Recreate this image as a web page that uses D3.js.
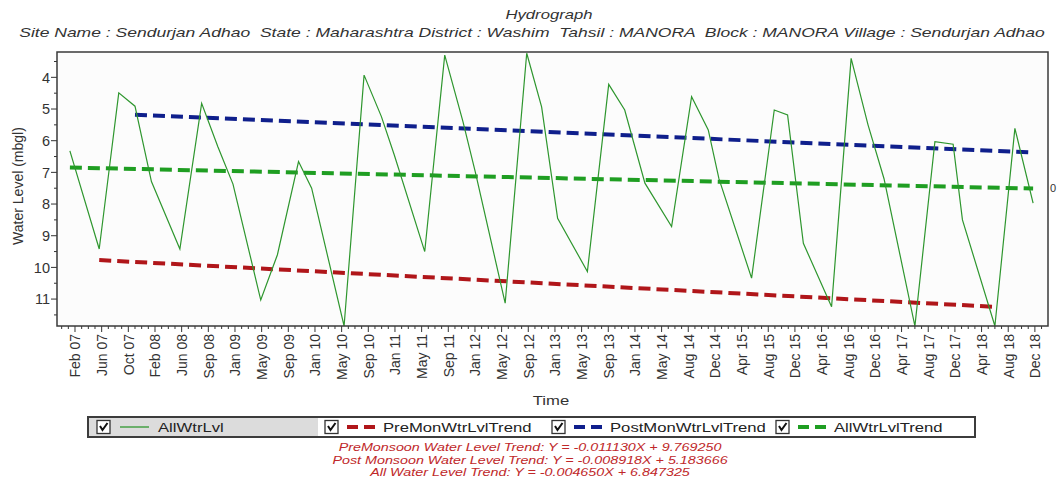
<!DOCTYPE html>
<html>
<head>
<meta charset="utf-8">
<script src="https://cdn.jsdelivr.net/npm/d3@7"></script>
<style>
  body { margin: 0; background: #fff; }
  svg { display: block; }
  text { white-space: pre; }
</style>
</head>
<body>
<svg id="chart" width="1057" height="495"></svg>
<script>
// ---- Observations (water level below ground, metres) ----
const obsDates = [
  "2007-01-16","2007-05-28","2007-08-24","2007-11-05",
  "2008-01-18","2008-05-25","2008-08-31","2008-11-12",
  "2009-01-19","2009-05-24","2009-08-07","2009-11-10",
  "2010-01-08","2010-06-03","2010-09-01","2010-11-18",
  "2011-01-15","2011-06-01","2011-08-30","2011-11-20",
  "2012-01-15","2012-05-28","2012-09-02","2012-11-08",
  "2013-01-19","2013-06-02","2013-09-06","2013-11-17",
  "2014-02-16","2014-06-16","2014-09-14","2014-11-28",
  "2015-01-15","2015-06-11","2015-09-21","2015-11-20",
  "2016-01-30","2016-06-05","2016-09-01","2016-11-16",
  "2017-01-27","2017-06-15","2017-09-13","2017-12-04",
  "2018-01-15","2018-06-10","2018-09-08","2018-11-29"
];
const waterLevel = [
  6.32, 9.42, 4.49, 4.91,
  7.29, 9.42, 4.82, 6.19,
  7.37, 11.03, 9.60, 6.66,
  7.50, 11.85, 3.93, 5.24,
  6.45, 9.50, 3.30, 5.40,
  7.00, 11.13, 3.24, 4.93,
  8.45, 10.13, 4.22, 5.03,
  7.34, 8.71, 4.61, 5.66,
  7.20, 10.34, 5.03, 5.19,
  9.24, 11.24, 3.40, 5.50,
  7.20, 11.85, 6.03, 6.11,
  8.50, 11.85, 5.61, 7.97
];

// ---- Axes ----
const xDomain = ["2006-11-19", "2019-02-04"];
const yDomain = [3.2, 11.85];
const tickStart = "2007-02-08";
const tickStepDays = 120;
const tickLabels = [
  "Feb 07","Jun 07","Oct 07","Feb 08","Jun 08","Sep 08","Jan 09","May 09","Sep 09",
  "Jan 10","May 10","Sep 10","Jan 11","May 11","Sep 11","Jan 12","May 12","Sep 12",
  "Jan 13","May 13","Sep 13","Jan 14","May 14","Aug 14","Dec 14","Apr 15","Aug 15",
  "Dec 15","Apr 16","Aug 16","Dec 16","Apr 17","Aug 17","Dec 17","Apr 18","Aug 18","Dec 18"
];
const yTicks = [4, 5, 6, 7, 8, 9, 10, 11];

// ---- Linear trends (slope per month, in the rising-level sign convention) ----
const trendNames = ["PreMonWtrLvlTrend", "PostMonWtrLvlTrend", "AllWtrLvlTrend"];
const trendTitles = ["PreMonsoon Water Level Trend", "Post Monsoon Water Level Trend", "All Water Level Trend"];
const trendSlopes = [-0.011130, -0.008918, -0.004650];
const trendIntercepts = [9.769250, 5.183666, 6.847325];
const trendStart = ["2007-05-28", "2007-11-05", "2007-01-16"];
const trendEnd = ["2018-06-10", "2018-11-29", "2018-11-29"];
const trendColors = ["#b0161a", "#0f1f8c", "#1f9e22"];
const lineColor = "#2e962e";

const titleText = "Hydrograph";
const subtitleText = "Site Name : Sendurjan Adhao  State : Maharashtra District : Washim  Tahsil : MANORA  Block : MANORA Village : Sendurjan Adhao";

// ---- Layout ----
const W = 1057, H = 495;
const plot = { left: 57, right: 1048, top: 52, bottom: 326 };
const FONT = "'Liberation Sans', Arial, sans-serif";
const STRETCH = 1.39;   // horizontal text in this chart is drawn wide

const parse = d3.utcParse("%Y-%m-%d");
const DAY = 86400000;
const MONTH_DAYS = 30.4375;

const svg = d3.select("#chart");
svg.append("rect").attr("width", W).attr("height", H).attr("fill", "#fff");

const x = d3.scaleUtc().domain(xDomain.map(parse)).range([plot.left, plot.right]);
const y = d3.scaleLinear().domain(yDomain).range([plot.top, plot.bottom]);

function wideText(parent, px, py, str, size, anchor, opts = {}) {
  const g = parent.append("g").attr("transform", `translate(${px},${py}) scale(${STRETCH},1)`);
  const t = g.append("text")
    .attr("text-anchor", anchor)
    .attr("font-family", FONT)
    .attr("font-size", size)
    .attr("fill", opts.fill || "#222")
    .text(str);
  if (opts.italic) t.attr("font-style", "italic");
  return t;
}

// Titles
wideText(svg, 549, 19, titleText, 12, "middle", { italic: true, fill: "#333" });
wideText(svg, 532, 37, subtitleText, 12.6, "middle", { italic: true, fill: "#333" });

// Plot background + clip
svg.append("rect")
  .attr("x", plot.left).attr("y", plot.top)
  .attr("width", plot.right - plot.left).attr("height", plot.bottom - plot.top)
  .attr("fill", "#fcfcfc");
svg.append("clipPath").attr("id", "plotClip").append("rect")
  .attr("x", plot.left).attr("y", plot.top)
  .attr("width", plot.right - plot.left).attr("height", plot.bottom - plot.top);

// Y axis ticks (major at integers, minor at halves)
const yAxisG = svg.append("g");
const yMinor = d3.range(3.5, 11.85, 0.5);
yAxisG.selectAll("line").data(yMinor).join("line")
  .attr("x1", d => Number.isInteger(d) ? plot.left - 6 : plot.left - 3)
  .attr("x2", plot.left)
  .attr("y1", d => y(d)).attr("y2", d => y(d))
  .attr("stroke", "#333").attr("stroke-width", 1);
yAxisG.selectAll("text").data(yTicks).join("text")
  .attr("x", 50).attr("y", d => y(d)).attr("dy", "0.36em")
  .attr("text-anchor", "end")
  .attr("font-family", FONT).attr("font-size", 14.5).attr("fill", "#333")
  .text(d => d);

// X axis ticks: major every 120 days, minor every 30 days
const t0 = parse(tickStart);
const majorDates = tickLabels.map((_, i) => new Date(t0.getTime() + i * tickStepDays * DAY));
const xDom = x.domain();
const minorDates = [];
for (let k = -3; k <= tickLabels.length * 4 + 2; k++) {
  const d = new Date(t0.getTime() + k * (tickStepDays / 4) * DAY);
  if (d >= xDom[0] && d <= xDom[1] && k % 4 !== 0) minorDates.push(d);
}
const xAxisG = svg.append("g");
xAxisG.selectAll("line.minor").data(minorDates).join("line")
  .attr("class", "minor")
  .attr("x1", d => x(d)).attr("x2", d => x(d))
  .attr("y1", plot.bottom).attr("y2", plot.bottom + 3)
  .attr("stroke", "#333").attr("stroke-width", 1);
xAxisG.selectAll("line.major").data(majorDates).join("line")
  .attr("class", "major")
  .attr("x1", d => x(d)).attr("x2", d => x(d))
  .attr("y1", plot.bottom).attr("y2", plot.bottom + 6)
  .attr("stroke", "#333").attr("stroke-width", 1);
xAxisG.selectAll("text").data(majorDates).join("text")
  .attr("transform", d => `translate(${x(d) + 5.5},${plot.bottom + 8}) rotate(-90)`)
  .attr("text-anchor", "end")
  .attr("font-family", FONT).attr("font-size", 14).attr("fill", "#333")
  .text((d, i) => tickLabels[i]);

// Axis titles
svg.append("text")
  .attr("transform", `translate(23,186) rotate(-90)`)
  .attr("text-anchor", "middle")
  .attr("font-family", FONT).attr("font-size", 14).attr("fill", "#333")
  .text("Water Level (mbgl)");
wideText(svg, 551, 405, "Time", 12, "middle", { fill: "#333" });

// Trend lines, evaluated from their equations (X = months since first reading of the season)
const series = obsDates.map((d, i) => ({ date: parse(d), value: waterLevel[i] }));
const plotG = svg.append("g").attr("clip-path", "url(#plotClip)");

trendNames.forEach((name, i) => {
  const s = parse(trendStart[i]), e = parse(trendEnd[i]);
  const pts = [s, e].map(d => {
    const months = (d - s) / DAY / MONTH_DAYS;
    return { date: d, value: trendIntercepts[i] - trendSlopes[i] * months };
  });
  plotG.append("path")
    .datum(pts)
    .attr("fill", "none")
    .attr("stroke", trendColors[i])
    .attr("stroke-width", 4)
    .attr("stroke-dasharray", "12,6")
    .attr("d", d3.line().x(p => x(p.date)).y(p => y(p.value)));
});

// Observed water level
plotG.append("path")
  .datum(series)
  .attr("fill", "none")
  .attr("stroke", lineColor)
  .attr("stroke-width", 1.2)
  .attr("stroke-linejoin", "miter")
  .attr("d", d3.line().x(p => x(p.date)).y(p => y(p.value)));

// Frame
svg.append("rect")
  .attr("x", plot.left).attr("y", plot.top)
  .attr("width", plot.right - plot.left).attr("height", plot.bottom - plot.top)
  .attr("fill", "none").attr("stroke", "#3a3a3a").attr("stroke-width", 1.5);

// Right-axis label
svg.append("text")
  .attr("x", 1050).attr("y", y(7.5)).attr("dy", "0.36em")
  .attr("font-family", FONT).attr("font-size", 11).attr("fill", "#333")
  .text("0");

// ---- Legend ----
const legend = { x: 88, y: 417, w: 887, h: 20 };
const legendG = svg.append("g");
legendG.append("rect")
  .attr("x", legend.x).attr("y", legend.y).attr("width", 230).attr("height", legend.h)
  .attr("fill", "#dcdcdc");
legendG.append("rect")
  .attr("x", legend.x).attr("y", legend.y).attr("width", legend.w).attr("height", legend.h)
  .attr("fill", "none").attr("stroke", "#3c3c3c").attr("stroke-width", 2);

const legendItems = [
  { name: "AllWtrLvl", color: lineColor, dashed: false, box: 97 },
  { name: trendNames[0], color: trendColors[0], dashed: true, box: 325 },
  { name: trendNames[1], color: trendColors[1], dashed: true, box: 552 },
  { name: trendNames[2], color: trendColors[2], dashed: true, box: 776 }
];
const cy = legend.y + legend.h / 2;
legendItems.forEach(it => {
  legendG.append("rect")
    .attr("x", it.box).attr("y", cy - 6.5).attr("width", 13).attr("height", 13)
    .attr("fill", "#fff").attr("stroke", "#333").attr("stroke-width", 1.3);
  legendG.append("path")
    .attr("d", `M${it.box + 3},${cy - 1} L${it.box + 5.5},${cy + 3} L${it.box + 10.5},${cy - 4}`)
    .attr("fill", "none").attr("stroke", "#111").attr("stroke-width", 2);
  if (it.dashed) {
    legendG.append("line")
      .attr("x1", it.box + 22).attr("x2", it.box + 51)
      .attr("y1", cy).attr("y2", cy)
      .attr("stroke", it.color).attr("stroke-width", 4).attr("stroke-dasharray", "11,6");
  } else {
    legendG.append("line")
      .attr("x1", it.box + 23).attr("x2", it.box + 52)
      .attr("y1", cy).attr("y2", cy)
      .attr("stroke", it.color).attr("stroke-width", 1.3);
  }
  wideText(legendG, it.box + (it.dashed ? 58 : 61), cy + 4.5, it.name, 12, "start", { fill: "#222" });
});

// ---- Trend equations ----
trendTitles.forEach((t, i) => {
  const str = `${t}: Y = ${trendSlopes[i].toFixed(6)}X + ${trendIntercepts[i].toFixed(6)}`;
  wideText(svg, 530, 451 + i * 12.5, str, 10.3, "middle", { italic: true, fill: "#c0282a" });
});
</script>
</body>
</html>
